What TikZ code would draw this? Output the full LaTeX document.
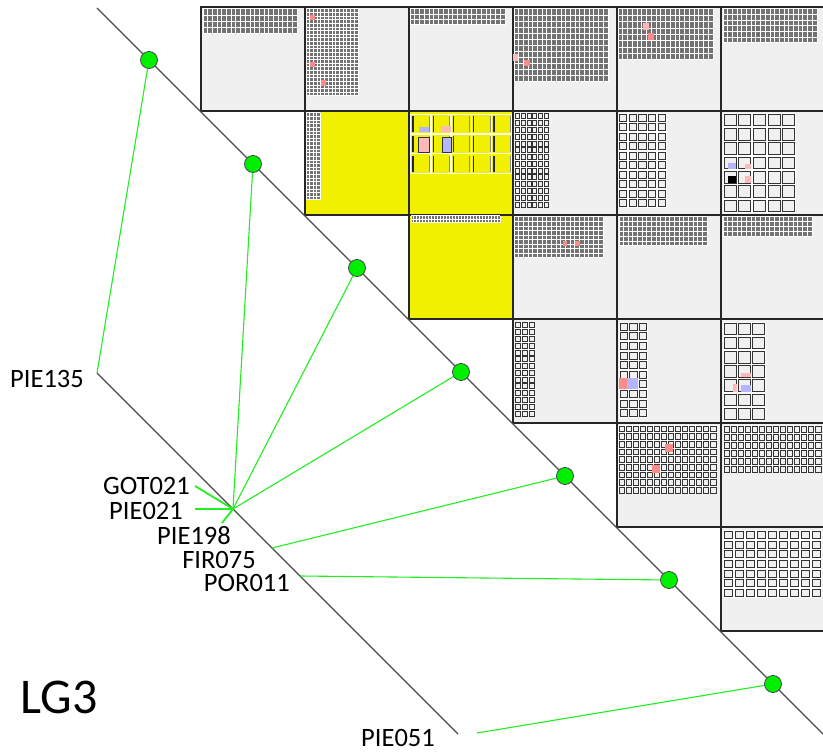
\documentclass[tikz,border=0pt]{standalone}
\usepackage{fontspec}
\setmainfont{Carlito}
\definecolor{cellbg}{HTML}{F0F0F0}
\definecolor{cellyel}{HTML}{F0F000}
\definecolor{grn}{HTML}{22EE22}
\definecolor{dotgrn}{HTML}{00EE00}
\definecolor{spotred}{HTML}{FF8A8A}
\definecolor{spotpink}{HTML}{FFB8B8}
\definecolor{spotblue}{HTML}{B4B4FF}
\tikzset{
 cellbox/.style={fill=cellbg, draw=black!85, line width=1.3pt},
 yelbox/.style={fill=cellyel, draw=black!85, line width=1.3pt},
 texfill/.style={fill=black!55},
 gapline/.style={draw=white, line width=1pt},
 tilebox/.style={draw=black!80, line width=1pt, fill=cellbg},
 axisline/.style={draw=black!70, line width=1.2pt},
 link/.style={draw=grn, line width=1.1pt},
 shortlink/.style={draw=grn, line width=1.8pt},
 dot/.style={circle, fill=dotgrn, draw=black!70, line width=0.8pt, minimum size=17pt, inner sep=0pt},
 lab/.style={font=\fontsize{26.5}{30}\selectfont, inner sep=0pt, anchor=east},
 biglab/.style={font=\fontsize{50}{56}\selectfont, inner sep=0pt},
}
\newcommand{\ftex}[6]{%
  \path[texfill] (#1,#2) rectangle (#3,#4);
  \foreach \k in {0,...,#5}{\path[gapline] ({#1+(#3-#1)*\k/#5},#2) -- ({#1+(#3-#1)*\k/#5},#4);}
  \foreach \k in {0,...,#6}{\path[gapline] (#1,{#2+(#4-#2)*\k/#6}) -- (#3,{#2+(#4-#2)*\k/#6});}
}
% coarse tiles: x1,y1,x2,y2,nx,ny,inset
\newcommand{\ctex}[7]{%
  \fill[white] (#1,#2) rectangle (#3,#4);
  \foreach \ii in {1,...,#5}{\foreach \jj in {1,...,#6}{%
    \path[tilebox] ({#1+(#3-#1)*(\ii-1)/#5+#7},{#2+(#4-#2)*(\jj-1)/#6+#7}) rectangle ({#1+(#3-#1)*\ii/#5-#7},{#2+(#4-#2)*\jj/#6-#7});
  }}
}
\begin{document}
\begin{tikzpicture}[x=1pt,y=-1pt]
\useasboundingbox (0,0) rectangle (823,754);
\fill[white] (0,0) rectangle (823,754);
% matrix cells (upper triangle)
\foreach \i in {0,...,5}{
  \pgfmathtruncatemacro\jstart{\i+1}
  \foreach \j in {\jstart,...,6}{
    \path[cellbox] ({97+104*\j},{7+104*\i}) rectangle ({201+104*\j},{111+104*\i});
  }
}
\path[yelbox] (305,111) rectangle (409,215);
\path[yelbox] (409,111) rectangle (513,215);
\path[yelbox] (409,215) rectangle (513,319);
% row 0 textures
\ftex{203}{9}{297}{34}{20}{4}
\ftex{306}{9}{358}{96}{14}{24}
\ftex{410}{9}{505}{25}{20}{3}
\ftex{514}{9}{608}{82}{20}{12}
\ftex{618}{9}{713}{60}{20}{8}
\ftex{723}{9}{817}{43}{20}{6}
% row 1 textures
\ftex{306}{113}{320}{200}{4}{24}
\ctex{515}{113}{549}{208}{6}{14}{0.9}
\ctex{618}{113}{667}{208}{5}{10}{1.3}
\ctex{723}{113}{796}{213}{5}{7}{1.3}
% cell (1,3) detail on yellow
\foreach \k in {0,...,5}{\draw[white, line width=1.5pt] ({410.7+20.2*\k},114.3) -- ({410.7+20.2*\k},173.3);}
\foreach \k in {0,...,3}{\draw[white, line width=1.5pt] (410.7,{114.3+19.7*\k}) -- (511.7,{114.3+19.7*\k});}
\foreach \a in {0,...,4}{\foreach \b in {0,...,2}{
  \draw[black!85, line width=1.4pt] ({413+20.2*\a},{116.5+19.7*\b}) -- ({413+20.2*\a},{132.5+19.7*\b});
  \draw[black!45, line width=1pt] ({429.5+20.2*\a},{116.5+19.7*\b}) -- ({429.5+20.2*\a},{132.5+19.7*\b});
}}
\fill[spotblue] (419,127) rectangle (429,132.5);
\fill[spotpink] (441,126) rectangle (451,132.5);
\filldraw[fill=spotpink, draw=black!80, line width=0.8pt] (418,137) rectangle (429,152);
\filldraw[fill=spotblue, draw=black!80, line width=0.8pt] (442,137) rectangle (451,152);
% row 2 textures
\ftex{411}{216}{500}{223}{30}{2}
\ftex{514}{217}{603}{258}{19}{9}
\ftex{619}{217}{707}{246}{19}{6}
\ftex{723}{217}{812}{237}{19}{4}
% row 3 textures
\ctex{515}{322}{535}{417}{3}{14}{0.9}
\ctex{619}{322}{648}{418}{3}{10}{1.3}
\ctex{723}{322}{766}{421}{3}{7}{1.3}
% row 4 textures
\ctex{618}{425}{717}{494}{14}{9}{1}
\ctex{723}{425}{822}{473}{14}{6}{1}
% row 5 texture
\ctex{723}{530}{822}{598}{9}{7}{1.3}
% coloured spots
\fill[spotred] (310,15) rectangle (315,20);
\fill[spotred] (310,62) rectangle (315,67);
\fill[spotred] (321,80) rectangle (326,86);
\fill[spotpink] (513,54) rectangle (518,61);
\fill[spotred] (524,60) rectangle (530,66);
\fill[spotpink] (643,23) rectangle (649,30);
\fill[spotred] (648,33) rectangle (654,40);
\fill[spotred] (563,241) rectangle (567,246);
\fill[spotred] (575,241) rectangle (580,246);
\fill[spotred] (665,444) rectangle (673,452);
\fill[spotred] (652,465) rectangle (660,473);
\fill[spotred] (619,378) rectangle (627,389);
\fill[spotblue] (627,378) rectangle (638,389);
\fill[spotblue] (728,163) rectangle (736,169);
\fill[spotpink] (745,164) rectangle (751,169);
\fill[black] (728,176) rectangle (736,183);
\fill[spotpink] (745,176) rectangle (751,183);
\fill[spotpink] (741,373) rectangle (751,377);
\fill[spotblue] (741,385) rectangle (751,392);
\fill[spotpink] (733,384) rectangle (737,392);
% axes
\coordinate (d0) at (97,8);
\coordinate (d1) at (823,734);
\coordinate (l0) at (97,373);
\coordinate (l1) at (458,734);
\path[axisline] (d0) -- (d1);
\path[axisline] (l0) -- (l1);
% map positions
\coordinate (hub) at (233,509);
\coordinate (p075) at (272,548);
\coordinate (p011) at (300,576);
\coordinate (p051) at (477,733);
\coordinate (g021) at (195,486);
\coordinate (q021) at (195,509);
\coordinate (q198) at (222,523);
% circles
\foreach \k in {0,...,6}{\coordinate (c\k) at ({149+104*\k},{60+104*\k});}
% links
\path[link] (c0) -- (l0);
\path[link] (c1) -- (hub);
\path[link] (c2) -- (hub);
\path[link] (c3) -- (hub);
\path[link] (c4) -- (p075);
\path[link] (c5) -- (p011);
\path[link] (c6) -- (p051);
\path[shortlink] (g021) -- (hub);
\path[shortlink] (q021) -- (hub);
\path[shortlink] (q198) -- (hub);
\foreach \k in {0,...,6}{\node[dot] (n\k) at (c\k) {};}
% labels
\node[lab] (tPIE135) at (84,379) {PIE135};
\node[lab] (tGOT021) at (190,486) {GOT021};
\node[lab] (tPIE021) at (183,511) {PIE021};
\node[lab] (tPIE198) at (231,536) {PIE198};
\node[lab] (tFIR075) at (256,560) {FIR075};
\node[lab] (tPOR011) at (290,583) {POR011};
\node[lab] (tPIE051) at (435,738) {PIE051};
\node[biglab] (tLG3) at (59,697) {LG3};
\end{tikzpicture}
\end{document}
